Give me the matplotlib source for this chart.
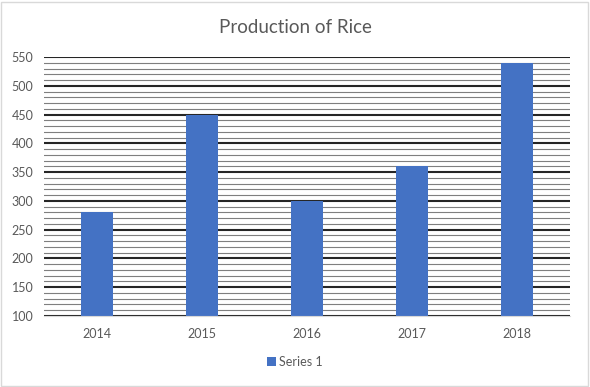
import numpy as np
import matplotlib
matplotlib.use("Agg")
import matplotlib.pyplot as plt
from matplotlib.patches import Rectangle
from matplotlib.ticker import MultipleLocator

years = ["2014", "2015", "2016", "2017", "2018"]
production = [280, 450, 300, 360, 540]
y_ticks = [100, 150, 200, 250, 300, 350, 400, 450, 500, 550]

plt.rcParams['font.family'] = ['Lato', 'DejaVu Sans']
txt = "#595959"; blue = "#4472C4"

fig = plt.figure(figsize=(5.9, 3.87), dpi=100)
fig.patches.append(Rectangle((0.002, 0.003), 0.995, 0.993, transform=fig.transFigure,
                             fill=False, edgecolor="#d9d9d9", lw=1.0))
ax = fig.add_axes([0.0754, 0.1835, 0.890, 0.669])

x = np.arange(len(years))
ax.bar(x, production, width=0.31, color=blue, zorder=3, label="Series 1")
ax.set_xlim(-0.5, len(years) - 0.5)
ax.set_ylim(100, 550)
ax.set_yticks(y_ticks)
ax.yaxis.set_minor_locator(MultipleLocator(10))
ax.set_xticks(x, years)

ax.grid(axis='y', which='major', color="#262626", lw=1.5, zorder=1)
ax.grid(axis='y', which='minor', color="#7f7f7f", lw=0.8, zorder=1)
ax.tick_params(which='both', length=0, colors=txt, labelsize=9)
ax.tick_params(axis='x', pad=9)
ax.tick_params(axis='y', pad=8)
for s in ("top", "right", "left"):
    ax.spines[s].set_visible(False)
ax.spines["bottom"].set_color("#d9d9d9")
ax.spines["bottom"].set_zorder(4)

fig.text(0.5, 0.93, "Production of Rice", ha='center', va='center', fontsize=13.5, color=txt)
fig.legend(loc='center', bbox_to_anchor=(0.5, 0.065), frameon=False, fontsize=9,
           labelcolor=txt, handlelength=0.7, handleheight=0.7, handletextpad=0.3)

fig.savefig("out.png", dpi=100)
